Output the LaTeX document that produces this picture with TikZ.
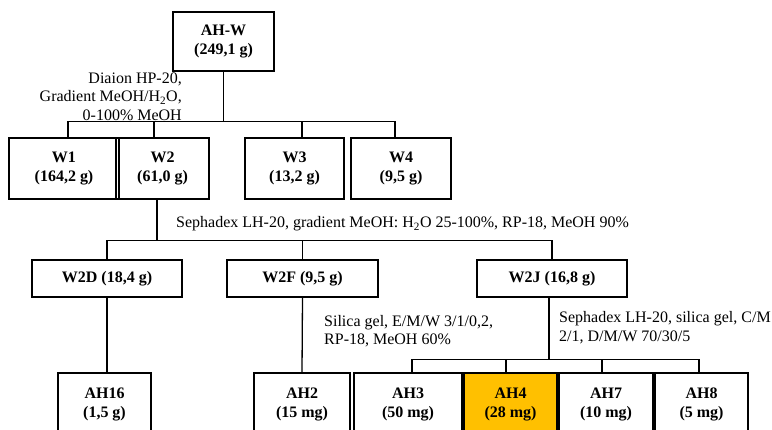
\documentclass[tikz,border=0pt]{standalone}
\usepackage{fontspec}
\setmainfont{Liberation Serif}
\definecolor{hl}{HTML}{FFC000}
\begin{document}
\begin{tikzpicture}[x=1pt,y=-1pt,
  box/.style={draw, line width=1.6pt, align=center, inner sep=0pt,
    font=\fontsize{16}{19}\selectfont\bfseries},
  lbl/.style={inner sep=0pt, font=\fontsize{16}{18.5}\selectfont},
  conn/.style={line width=1.3pt}]
\useasboundingbox (0,0) rectangle (772,430);
\clip (0,0) rectangle (772,430);
% top
\node[box, minimum width=101pt, minimum height=59pt] (AHW) at (223.5,41.5) {AH-W\\(249,1 g)};
\node[box, minimum width=110pt, minimum height=61pt] (W1) at (64,168.5) {W1\\(164,2 g)};
\node[box, minimum width=93pt, minimum height=61pt] (W2) at (162.5,168.5) {W2\\(61,0 g)};
\node[box, minimum width=99pt, minimum height=61pt] (W3) at (294.5,168.5) {W3\\(13,2 g)};
\node[box, minimum width=100pt, minimum height=61pt] (W4) at (401,168.5) {W4\\(9,5 g)};
% level 2
\node[box, minimum width=150pt, minimum height=37pt] (W2D) at (107,278.5) {W2D (18,4 g)};
\node[box, minimum width=151pt, minimum height=37pt] (W2F) at (302.5,278.5) {W2F (9,5 g)};
\node[box, minimum width=150pt, minimum height=37pt] (W2J) at (552,278.5) {W2J (16,8 g)};
% level 3
\node[box, minimum width=93pt, minimum height=62pt] (AH16) at (104.5,404) {AH16\\(1,5 g)};
\node[box, minimum width=96pt, minimum height=62pt] (AH2) at (302,404) {AH2\\(15 mg)};
\node[box, minimum width=108pt, minimum height=62pt] (AH3) at (408,404) {AH3\\(50 mg)};
\node[box, minimum width=93pt, minimum height=62pt, fill=hl] (AH4) at (510.5,404) {AH4\\(28 mg)};
\node[box, minimum width=94pt, minimum height=62pt] (AH7) at (606,404) {AH7\\(10 mg)};
\node[box, minimum width=93pt, minimum height=62pt] (AH8) at (701.5,404) {AH8\\(5 mg)};
% labels
\node[lbl, anchor=east, align=right] (L1) at (182,96.5) {Diaion HP-20,\\Gradient MeOH/H\textsubscript{2}O,\\0-100\% MeOH};
\node[lbl, anchor=west] (L2) at (176,224) {Sephadex LH-20, gradient MeOH: H\textsubscript{2}O 25-100\%, RP-18, MeOH 90\%};
\node[lbl, anchor=west, align=left] (L3) at (324,331) {Silica gel, E/M/W 3/1/0,2,\\RP-18, MeOH 60\%};
\node[lbl, anchor=west, align=left] (L4) at (559,327.5) {Sephadex LH-20, silica gel, C/M\\2/1, D/M/W 70/30/5};
% connectors level 1
\coordinate (b1) at (AHW.south |- 0,122);
\draw[conn] (AHW.south) -- (b1);
\draw[conn] ([xshift=4pt]W1.north) -- ++(0,-16) -| ([xshift=-6pt]W4.north);
\draw[conn] ([xshift=-8.5pt]W2.north) -- ++(0,-16);
\draw[conn] ([xshift=7.5pt]W3.north) -- ++(0,-16);
% connectors level 2
\path ([xshift=-5.5pt]W2.south) ++(0,41) coordinate (b2);
\draw[conn] ([xshift=-5.5pt]W2.south) -- (b2);
\draw[conn] (W2D.north) |- (b2) -| (W2J.north);
\draw[conn] (W2F.north) -- (W2F.north |- b2);
% connectors level 3
\draw[conn] (W2D.south) -- (W2D.south |- AH16.north);
\draw[conn] (W2F.south) -- (AH2.north);
\path ([xshift=-3pt]W2J.south) ++(0,62) coordinate (b3);
\draw[conn] ([xshift=-3pt]W2J.south) -- (b3);
\draw[conn] ([xshift=4pt]AH3.north) -- ++(0,-13) -| ([xshift=-2.5pt]AH8.north);
\draw[conn] ([xshift=-4.5pt]AH4.north) -- ++(0,-13);
\draw[conn] ([xshift=-4pt]AH7.north) -- ++(0,-13);
\end{tikzpicture}
\end{document}
